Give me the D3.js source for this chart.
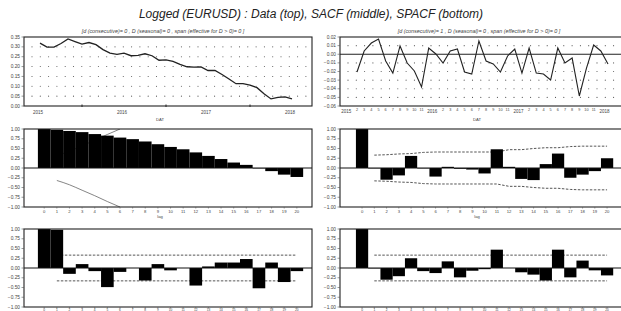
<!DOCTYPE html>
<html><head><meta charset="utf-8">
<script src="https://cdn.jsdelivr.net/npm/d3@7"></script>
<style>body{margin:0;background:#fff;} svg{display:block;font-family:"Liberation Sans",Arial,sans-serif;}</style>
</head><body><svg id="c" width="621" height="311"></svg>
<script>
// ---------- data ----------
const titleText = "Logged (EURUSD) : Data (top), SACF (middle), SPACF (bottom)";
const subLeft  = "[d (consecutive)= 0 ,  D (seasonal)= 0 ,  span (effective for D > 0)= 0 ]";
const subRight = "[d (consecutive)= 1 ,  D (seasonal)= 0 ,  span (effective for D > 0)= 0 ]";
const yearLabels = ["2015", "2016", "2017", "2018"];
const yearIdx = [0, 12, 24, 36];
const levelValues = [0.319,0.299,0.299,0.317,0.340,0.327,0.314,0.322,0.311,0.286,0.268,0.262,0.268,0.255,0.257,0.265,0.255,0.232,0.234,0.226,0.211,0.199,0.197,0.198,0.180,0.180,0.160,0.137,0.113,0.113,0.106,0.093,0.062,0.036,0.044,0.046,0.036];
const diffValues = [-0.0206,0.0038,0.0130,0.0177,-0.0078,-0.0218,0.0096,-0.0102,-0.0194,-0.0380,0.0072,0.0003,-0.0102,0.0038,0.0061,-0.0206,-0.0229,0.0154,-0.0078,-0.0113,-0.0206,-0.0020,0.0061,-0.0218,0.0072,-0.0218,-0.0229,-0.0299,0.0072,-0.0102,-0.0044,-0.0484,-0.0160,0.0107,0.0038,-0.0113];
const levelTicks = [0.35,0.30,0.25,0.20,0.15,0.10,0.05,0.00];
const diffTicks = [0.02,0.01,0.00,-0.01,-0.02,-0.03,-0.04,-0.05,-0.06];
const corrTicks = [1,0.75,0.5,0.25,0,-0.25,-0.5,-0.75,-1];
const lags = d3.range(0, 21);
const acfLevel  = [1.00,0.98,0.95,0.92,0.87,0.83,0.78,0.74,0.68,0.61,0.54,0.48,0.40,0.31,0.23,0.14,0.08,-0.01,-0.08,-0.17,-0.23];
const acfLevelBand = [0.32,0.43,0.57,0.71,0.86,1.00];          // lags 1..6
const pacfLevel = [1.00,0.98,-0.15,0.10,-0.08,-0.49,-0.10,0.00,-0.32,0.10,-0.06,0.00,-0.45,0.04,0.14,0.14,0.23,-0.52,0.14,-0.36,-0.08];
const pacfLevelBand = 0.33;
const acfDiff  = [1.00,-0.01,-0.30,-0.19,0.31,-0.01,-0.22,0.03,-0.02,-0.04,-0.14,0.48,0.03,-0.28,-0.31,0.10,0.37,-0.25,-0.17,-0.08,0.25];
const acfDiffBand = [0.33,0.34,0.36,0.37,0.40,0.41,0.41,0.41,0.41,0.41,0.41,0.47,0.47,0.50,0.52,0.52,0.55,0.56,0.56,0.56]; // lags 1..20
const pacfDiff = [1.00,-0.01,-0.30,-0.21,0.25,-0.08,-0.13,0.17,-0.24,-0.07,-0.03,0.47,0.00,-0.11,-0.17,-0.32,0.47,-0.24,0.19,-0.06,-0.19];
const pacfDiffBand = 0.33;

// ---------- layout ----------
const svg = d3.select("#c");
const L = {x0: 24, x1: 312}, R = {x0: 340, x1: 623};
const rows = {top: {y0: 37, y1: 106}, mid: {y0: 129, y1: 207}, bot: {y0: 229, y1: 307}};
const txt = "#444";

svg.append("text").attr("x", 311).attr("y", 18).attr("text-anchor", "middle")
  .attr("font-size", 12).attr("font-style", "italic").attr("fill", "#222").text(titleText);

function box(col, row) {
  svg.append("rect").attr("x", col.x0).attr("y", row.y0).attr("width", col.x1 - col.x0)
    .attr("height", row.y1 - row.y0).attr("fill", "none").attr("stroke", "#222").attr("stroke-width", 1.1);
}
function yLabels(col, y, ticks, fmt) {
  ticks.forEach(t => {
    svg.append("text").attr("x", col.x0 - 4).attr("y", y(t) + 1.6).attr("text-anchor", "end")
      .attr("font-size", 4.8).attr("fill", txt).text(fmt(t));
    svg.append("line").attr("x1", col.x0 - 2.5).attr("x2", col.x0).attr("y1", y(t)).attr("y2", y(t))
      .attr("stroke", "#555").attr("stroke-width", 0.6);
  });
}
function dots(col, y, ticks, skip) {
  const xs = d3.range(col.x0 + 8, Math.min(col.x1, 618) - 3, 8.3);
  ticks.slice(1, -1).forEach(t => {
    if (skip !== undefined && t === skip) return;
    xs.forEach(xx => svg.append("circle").attr("cx", xx).attr("cy", y(t)).attr("r", 0.55).attr("fill", "#555"));
  });
}

// ---------- top-left: levels ----------
{
  const row = rows.top;
  const x = d3.scaleLinear().domain([0, 36]).range([40, 292]);
  const y = d3.scaleLinear().domain([0, 0.35]).range([row.y1, row.y0]);
  dots(L, y, levelTicks);
  box(L, row);
  yLabels(L, y, levelTicks, d3.format(".2f"));
  svg.append("path").datum(levelValues).attr("fill", "none").attr("stroke", "#222").attr("stroke-width", 1.3)
    .attr("d", d3.line().x((d, i) => x(i)).y(d => y(d)));
  yearIdx.forEach((m, i) => svg.append("text").attr("x", x(m) + 3).attr("y", 114).attr("text-anchor", "end")
    .attr("font-size", 4.5).attr("fill", txt).text(yearLabels[i]));
  [6, 18, 30].forEach(m => svg.append("line").attr("x1", x(m)).attr("x2", x(m)).attr("y1", row.y1 - 1.5).attr("y2", row.y1 + 1)
    .attr("stroke", "#222").attr("stroke-width", 1));
  svg.append("text").attr("x", 160).attr("y", 121).attr("text-anchor", "middle").attr("font-size", 4.2).attr("fill", txt).text("DAT");
  svg.append("text").attr("x", 163).attr("y", 33).attr("text-anchor", "middle").attr("font-size", 5.4)
    .attr("font-style", "italic").attr("fill", txt).text(subLeft);
}

// ---------- top-right: differences ----------
{
  const row = rows.top;
  const x = d3.scaleLinear().domain([1, 36]).range([357, 608]);
  const y = d3.scaleLinear().domain([-0.06, 0.02]).range([row.y1, row.y0]);
  dots(R, y, diffTicks, 0);
  box(R, row);
  svg.append("line").attr("x1", R.x0).attr("x2", R.x1).attr("y1", y(0)).attr("y2", y(0)).attr("stroke", "#222").attr("stroke-width", 1.1);
  yLabels(R, y, diffTicks, d3.format(".2f"));
  svg.append("path").datum(diffValues).attr("fill", "none").attr("stroke", "#222").attr("stroke-width", 1.1)
    .attr("d", d3.line().x((d, i) => x(i + 1)).y(d => y(d)));
  d3.range(1, 36).filter(m => m % 12 !== 0 && m % 12 !== 11).forEach(m => svg.append("text").attr("x", x(m)).attr("y", 110.5)
    .attr("text-anchor", "middle").attr("font-size", 3.8).attr("fill", txt).text((m % 12) + 1));
  yearIdx.forEach((m, i) => svg.append("text").attr("x", x(m) + 1.5).attr("y", 113).attr("text-anchor", "end")
    .attr("font-size", 4.5).attr("fill", txt).text(yearLabels[i]));
  svg.append("text").attr("x", 477).attr("y", 121).attr("text-anchor", "middle").attr("font-size", 4.2).attr("fill", txt).text("DAT");
  svg.append("text").attr("x", 479).attr("y", 33).attr("text-anchor", "middle").attr("font-size", 5.4)
    .attr("font-style", "italic").attr("fill", txt).text(subRight);
}

// ---------- correlogram panels ----------
function corrPanel(col, row, domain, values, bandUpper, bandLower, bandLags, dashed, clipId, titleX, labelDy, labelSize) {
  const x = d3.scaleLinear().domain(domain).range([col.x0, col.x1]);
  const y = d3.scaleLinear().domain([-1, 1]).range([row.y1, row.y0]);
  const w = x(0.5) - x(-0.5);
  svg.append("clipPath").attr("id", clipId).append("rect").attr("x", col.x0).attr("y", row.y0)
    .attr("width", col.x1 - col.x0).attr("height", row.y1 - row.y0);
  // confidence bands first (bars are painted over them)
  const bl = d3.line().x((d, i) => x(bandLags[i])).y(d => y(d));
  if (!dashed) bl.curve(d3.curveMonotoneX);
  [bandUpper, bandLower].forEach(b => svg.append("path").datum(b).attr("clip-path", `url(#${clipId})`)
    .attr("fill", "none").attr("stroke", dashed ? "#555" : "#666").attr("stroke-width", dashed ? 1 : 0.8)
    .attr("stroke-dasharray", dashed ? "2.5,1.5" : null).attr("d", bl));
  svg.append("g").selectAll("rect").data(values).join("rect")
    .attr("x", (d, i) => x(lags[i]) - w / 2).attr("width", w)
    .attr("y", d => y(Math.max(0, d))).attr("height", d => Math.abs(y(d) - y(0)))
    .attr("fill", "#000");
  svg.append("line").attr("x1", col.x0).attr("x2", col.x1).attr("y1", y(0)).attr("y2", y(0)).attr("stroke", "#111").attr("stroke-width", 1.1);
  box(col, row);
  yLabels(col, y, corrTicks, d3.format(".2f"));
  lags.forEach(l => {
    svg.append("line").attr("x1", x(l)).attr("x2", x(l)).attr("y1", row.y1).attr("y2", row.y1 + 1.5).attr("stroke", "#555").attr("stroke-width", 0.6);
    svg.append("text").attr("x", x(l)).attr("y", row.y1 + labelDy).attr("text-anchor", "middle").attr("font-size", labelSize).attr("fill", txt).text(l);
  });
  if (titleX) svg.append("text").attr("x", titleX).attr("y", row.y1 + 11).attr("text-anchor", "middle")
    .attr("font-size", 4.2).attr("fill", txt).text("lag");
}

const bandL1 = d3.range(1, 7);
const bandAll = d3.range(1, 21);
corrPanel(L, rows.mid, [-1.6, 21.2], acfLevel, acfLevelBand, acfLevelBand.map(v => -v), bandL1, false, "c1", 160, 6, 4.2);
corrPanel(R, rows.mid, [-1.8, 21.3], acfDiff, acfDiffBand, acfDiffBand.map(v => -v), bandAll, true, "c2", 477, 6, 4.2);
corrPanel(L, rows.bot, [-1.6, 21.2], pacfLevel, bandAll.map(() => pacfLevelBand), bandAll.map(() => -pacfLevelBand), bandAll, true, "c3", 0, 3.8, 3.2);
corrPanel(R, rows.bot, [-1.8, 21.3], pacfDiff, bandAll.map(() => pacfDiffBand), bandAll.map(() => -pacfDiffBand), bandAll, true, "c4", 0, 3.8, 3.2);
</script></body></html>
